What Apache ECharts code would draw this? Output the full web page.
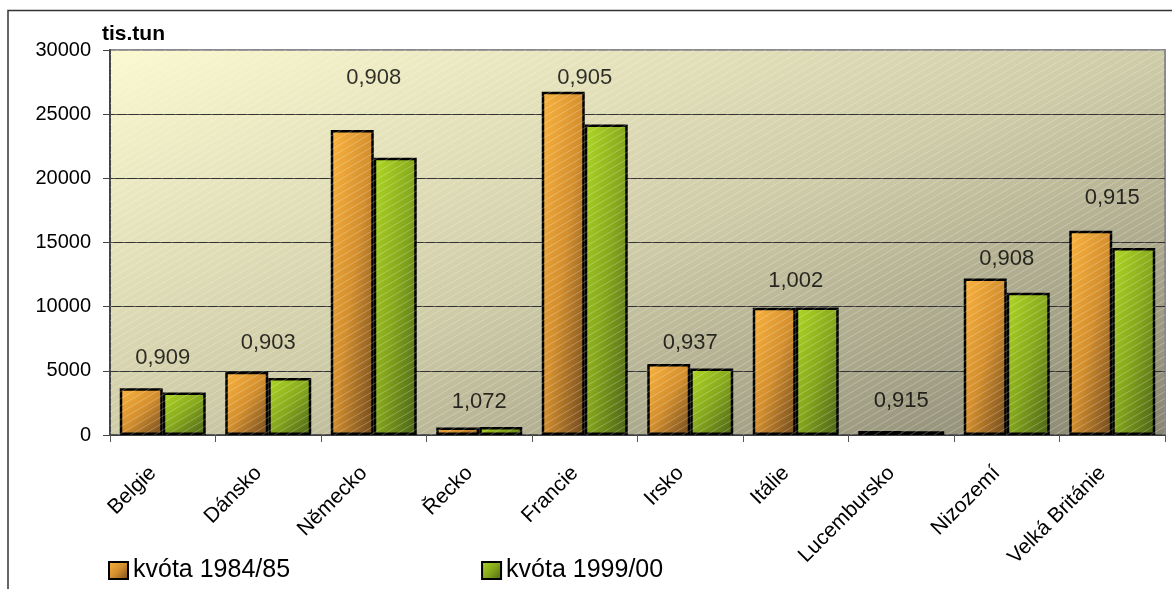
<!DOCTYPE html>
<html>
<head>
<meta charset="utf-8">
<script src="https://cdn.jsdelivr.net/npm/echarts@6/dist/echarts.min.js"></script>
<style>
html,body{margin:0;padding:0;background:#fff;}
#chart{width:1172px;height:589px;}
</style>
</head>
<body>
<div id="chart"></div>
<script>
// ---- data ----
var categories = ['Belgie','Dánsko','Německo','Řecko','Francie','Irsko','Itálie','Lucembursko','Nizozemí','Velká Británie'];
var quota1984 = [3640, 4930, 23760, 590, 26740, 5530, 9920, 310, 12200, 15920];
var quota1999 = [3310, 4450, 21600, 632, 24200, 5185, 9940, 284, 11080, 14570];
var ratioLabels = ['0,909','0,903','0,908','1,072','0,905','0,937','1,002','0,915','0,908','0,915'];
var ratioLabelHeight = [6000, 7170, 27800, 2570, 27800, 7170, 12000, 2650, 13700, 18450];
var seriesNames = ['kvóta 1984/85', 'kvóta 1999/00'];
var yTicks = {min: 0, max: 30000, interval: 5000};

var FONT = 'Liberation Sans, Arial, sans-serif';
var G = echarts.graphic;

// Excel-like "diagonal" gradient: t = (u+v)/2 in bar-box coordinates
function diagGrad(wPx, hPx, stops) {
  var r = hPx / Math.max(wPx, 0.001);
  var x2 = 2 * r * r / (r * r + 1);
  var y2 = 2 / (r * r + 1);
  return new G.LinearGradient(0, 0, x2, y2, stops);
}
var orangeStops = [{offset:0,color:'#fbb43e'},{offset:0.5,color:'#d48f2e'},{offset:1,color:'#70491c'}];
var greenStops  = [{offset:0,color:'#b0d824'},{offset:0.5,color:'#86a81c'},{offset:1,color:'#4a6216'}];

var plot = {left:110, top:50, right:7, bottom:154};
var plotW = 1172 - plot.left - plot.right, plotH = 589 - plot.top - plot.bottom;
var barPx = 43;

function barData(vals, stops) {
  return vals.map(function (v) {
    var h = v / yTicks.max * plotH;
    return {value: v, itemStyle: {color: diagGrad(barPx, h, stops)}};
  });
}

// hatch pattern
var pc = document.createElement('canvas');
pc.width = 12; pc.height = 7;
var ctx = pc.getContext('2d');
ctx.strokeStyle = 'rgba(255,255,255,0.5)';
ctx.lineWidth = 1;
[-1,0,1].forEach(function (k) {
  ctx.beginPath();
  ctx.moveTo(0, 7 + k * 7);
  ctx.lineTo(12, 0 + k * 7);
  ctx.stroke();
});

var chart = echarts.init(document.getElementById('chart'), null, {renderer:'canvas'});
var option = {
  animation: false,
  backgroundColor: '#fff',
  textStyle: {fontFamily: FONT, color: '#000'},
  grid: {
    left: plot.left, right: plot.right, top: plot.top, bottom: plot.bottom,
    show: true,
    backgroundColor: diagGrad(plotW, plotH, [{offset:0,color:'#fbf9cf'},{offset:0.5,color:'#cfcca8'},{offset:1,color:'#878570'}]),
    borderColor: '#8a8a8a', borderWidth: 2
  },
  legend: {
    data: seriesNames,
    left: 103, top: 553,
    icon: 'rect', itemWidth: 19, itemHeight: 17, itemGap: 191,
    textStyle: {fontSize: 25, fontFamily: FONT, color: '#000'},
    itemStyle: {borderColor: '#000', borderWidth: 2}
  },
  xAxis: {
    type: 'category',
    data: categories,
    axisLine: {lineStyle: {color: '#444', width: 1.5}},
    axisTick: {show: true, length: 7, lineStyle: {color: '#555'}},
    axisLabel: {rotate: 45, fontSize: 21, fontFamily: FONT, color: '#000', margin: 25, padding: [0, 14, 0, 0], interval: 0}
  },
  yAxis: {
    type: 'value',
    min: yTicks.min, max: yTicks.max, interval: yTicks.interval,
    axisLine: {show: true, lineStyle: {color: '#444', width: 2}},
    axisTick: {show: true, length: 7, lineStyle: {color: '#444'}},
    axisLabel: {fontSize: 20, fontFamily: FONT, color: '#000', margin: 19, formatter: function (v) { return String(v); }},
    splitLine: {show: true, lineStyle: {color: ['#333','#333','#333','#333','#333','#333','#999'], width: 1}}
  },
  series: [
    {
      name: seriesNames[0], type: 'bar',
      data: barData(quota1984, orangeStops),
      barGap: '0%', barCategoryGap: '18.5%',
      itemStyle: {color: new G.LinearGradient(0,0,1,1,orangeStops), borderColor: '#000', borderWidth: 2.5}
    },
    {
      name: seriesNames[1], type: 'bar',
      data: barData(quota1999, greenStops),
      barGap: '0%', barCategoryGap: '18.5%',
      itemStyle: {color: new G.LinearGradient(0,0,1,1,greenStops), borderColor: '#000', borderWidth: 2.5}
    },
    {
      name: 'ratio', type: 'scatter',
      data: ratioLabelHeight,
      symbol: 'circle', symbolSize: 1,
      itemStyle: {color: 'rgba(0,0,0,0)'},
      z: 20,
      label: {
        show: true, position: 'inside',
        formatter: function (p) { return ratioLabels[p.dataIndex]; },
        fontSize: 22, fontFamily: FONT, color: '#000'
      }
    }
  ],
  graphic: [
    {type: 'rect', silent: true, z: 10,
     shape: {x: plot.left, y: plot.top, width: plotW, height: plotH},
     style: {fill: {image: pc, repeat: 'repeat'}, opacity: 0.5}},
    {type: 'rect', silent: true, z: 0,
     shape: {x: 8, y: 10.5, width: 1300, height: 700},
     style: {fill: 'none', stroke: '#333', lineWidth: 1.5}},
    {type: 'text', left: 102, top: 24, z: 20,
     style: {text: 'tis.tun', fontSize: 21, fontWeight: 'bold', fontFamily: FONT, fill: '#000'}}
  ]
};
chart.setOption(option);
</script>
</body>
</html>
